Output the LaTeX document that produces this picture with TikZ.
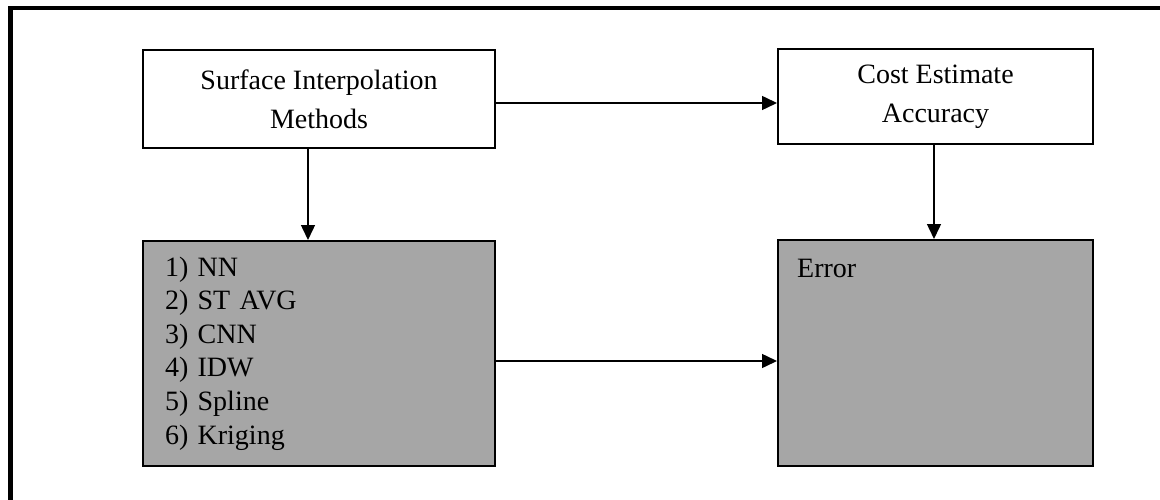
\documentclass[tikz,border=0pt]{standalone}
\usepackage{fontspec}
\setmainfont{Liberation Serif}
\usetikzlibrary{arrows.meta}
\definecolor{boxgray}{RGB}{166,166,166}
\begin{document}
\begin{tikzpicture}[x=1pt,y=-1pt,
  titlebox/.style={draw=black,line width=2pt,fill=white,inner sep=0pt,
    align=center,font=\fontsize{28}{39}\selectfont},
  graybox/.style={draw=black,line width=2pt,fill=boxgray,inner sep=0pt},
  arr/.style={line width=1.5pt,-{Triangle[length=15pt,width=14pt]}}]
  \useasboundingbox (0,0) rectangle (1160,500);
  \clip (0,0) rectangle (1160,500);
  % outer frame (runs past the right and bottom edges)
  \draw[line width=4.5pt] (10.3,520) -- (10.3,8) -- (1180,8);
  % top row
  \node[titlebox,minimum width=352pt,minimum height=98pt] (A) at (319,99)
    {Surface Interpolation\\Methods};
  \node[titlebox,minimum width=315pt,minimum height=95pt] (B) at (935.5,97)
    {Cost Estimate\\Accuracy};
  % bottom row
  \node[graybox,minimum width=352pt,minimum height=225pt,text width=308pt,
    inner xsep=22pt,align=left,font=\fontsize{28}{33.6}\selectfont] (C) at (319,353.5)
    {1) NN\\2) ST AVG\\3) CNN\\4) IDW\\5) Spline\\6) Kriging};
  \node[graybox,minimum width=315pt,minimum height=226pt,
    label={[anchor=base west,xshift=20pt,yshift=-38pt,inner sep=0pt,
      font=\fontsize{28}{33.6}\selectfont]north west:Error}] (D) at (935.5,353) {};
  % connectors
  \draw[arr] ([yshift=-4pt]A.east) -- ([yshift=-4pt]A.east -| B.west);
  \draw[arr] ([xshift=-11pt]A.south) -- ([xshift=-11pt]A.south |- C.north);
  \draw[arr] ([xshift=-1.5pt]B.south) -- ([xshift=-1.5pt]B.south |- D.north);
  \draw[arr] ([yshift=-7.5pt]C.east) -- ([yshift=-7.5pt]C.east -| D.west);
\end{tikzpicture}
\end{document}
